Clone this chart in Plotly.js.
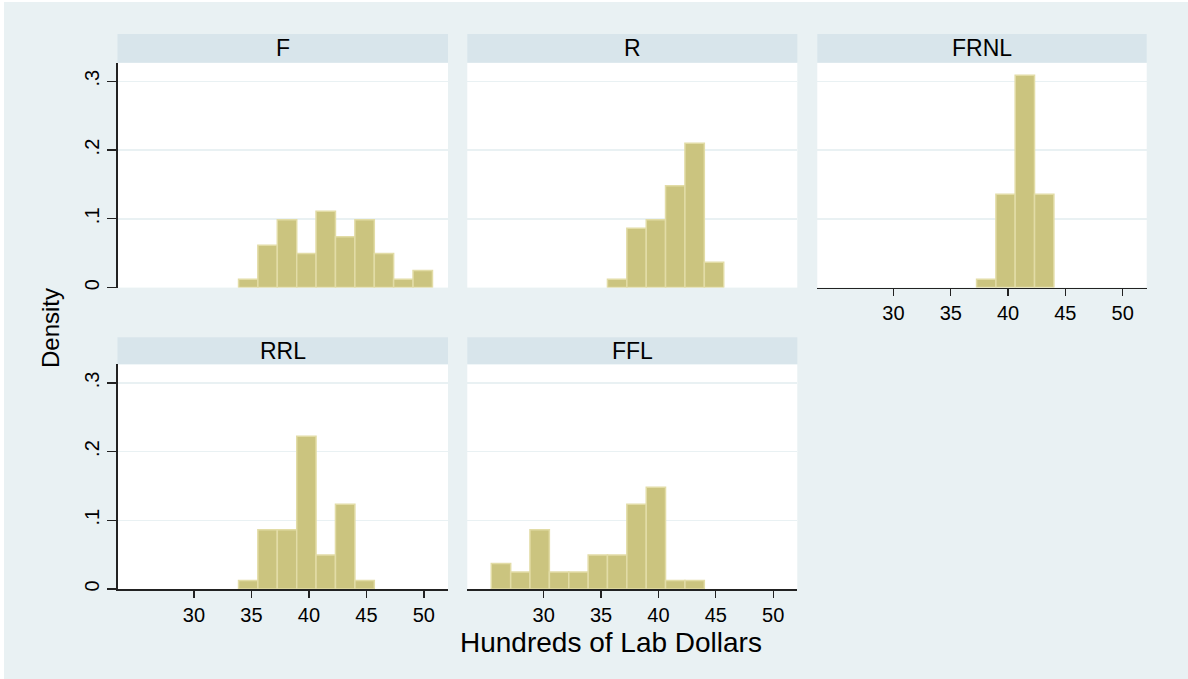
<!DOCTYPE html>
<html>
<head>
<meta charset="utf-8">
<script src="https://cdn.plot.ly/plotly-3.0.1.min.js"></script>
<style>
html,body{margin:0;padding:0;background:#ffffff;}
#chart{width:1188px;height:679px;}
</style>
</head>
<body>
<div id="chart"></div>
<script>
// Shared histogram bin edges (Hundreds of Lab Dollars)
var binEdges = [25.44, 27.13, 28.81, 30.50, 32.19, 33.88, 35.56, 37.25, 38.94, 40.62, 42.31, 44.00, 45.69, 47.37, 49.06, 50.75];

// Panel names
var panels = ["F", "R", "FRNL", "RRL", "FFL"];

// Density per bin (15 bins) for each panel
var densF    = [0, 0, 0, 0, 0, 0.0123, 0.0617, 0.0988, 0.0494, 0.1111, 0.0741, 0.0988, 0.0494, 0.0123, 0.0247];
var densR    = [0, 0, 0, 0, 0, 0, 0.0123, 0.0864, 0.0988, 0.1481, 0.2099, 0.0370, 0, 0, 0];
var densFRNL = [0, 0, 0, 0, 0, 0, 0, 0.0123, 0.1358, 0.3086, 0.1358, 0, 0, 0, 0];
var densRRL  = [0, 0, 0, 0, 0, 0.0123, 0.0864, 0.0864, 0.2222, 0.0494, 0.1235, 0.0123, 0, 0, 0];
var densFFL  = [0.0370, 0.0247, 0.0864, 0.0247, 0.0247, 0.0494, 0.0494, 0.1235, 0.1481, 0.0123, 0.0123, 0, 0, 0, 0];

// Axis tick labels
var xTickVals = [30, 35, 40, 45, 50];
var xTickText = ["30", "35", "40", "45", "50"];
var yTickVals = [0, 0.1, 0.2, 0.3];
var yTickText = ["0", ".1", ".2", ".3"];

var allDens = [densF, densR, densFRNL, densRRL, densFFL];

var W = 1188, H = 679;
function fx(px){ return px / W; }
function fy(px){ return 1 - px / H; }

// panel geometry in pixels
var cols = [[117.5, 448], [467.3, 797.3], [817.3, 1146.7]];
var rows = [{hTop: 34, pTop: 62.7, pBot: 287.6}, {hTop: 337.3, pTop: 364.3, pBot: 589}];
var place = [[0,0],[0,1],[0,2],[1,0],[1,1]]; // [row, col]

var bg = "#e9f1f3";
var strip = "#d8e5eb";
var barFill = "#cbc47f";
var barLine = "#e2dca6";

var traces = [];
var layout = {
  width: W, height: H,
  margin: {l:0, r:0, t:0, b:0},
  paper_bgcolor: bg,
  plot_bgcolor: "#ffffff",
  showlegend: false,
  bargap: 0,
  font: {family: "Liberation Sans, Arial, sans-serif", color: "#000000"},
  shapes: [],
  annotations: []
};

for (var i = 0; i < panels.length; i++) {
  var d = allDens[i];
  var xs = [], ys = [], ws = [];
  for (var b = 0; b < d.length; b++) {
    if (d[b] > 0) {
      xs.push((binEdges[b] + binEdges[b+1]) / 2);
      ws.push(binEdges[b+1] - binEdges[b]);
      ys.push(d[b]);
    }
  }
  var ax = (i === 0) ? "" : String(i + 1);
  traces.push({
    type: "bar", x: xs, y: ys, width: ws,
    xaxis: "x" + ax, yaxis: "y" + ax,
    marker: {color: barFill, line: {color: barLine, width: 1.5}},
    hoverinfo: "x+y"
  });

  var r = place[i][0], c = place[i][1];
  var col = cols[c], row = rows[r];
  var showX = (r === 1) || (i === 2);
  var showY = (c === 0);

  layout["xaxis" + ax] = {
    domain: [fx(col[0]), fx(col[1])],
    anchor: "y" + ax,
    range: [23.35, 52.1],
    tickvals: xTickVals, ticktext: xTickText,
    showticklabels: showX,
    ticks: showX ? "outside" : "",
    ticklen: 7, tickwidth: 1.3, tickcolor: "#222222",
    showline: showX, linecolor: "#222222", linewidth: 1.5,
    showgrid: false, zeroline: false,
    tickfont: {size: 20, color: "#000000"}
  };
  layout["yaxis" + ax] = {
    domain: [fy(row.pBot), fy(row.pTop)],
    anchor: "x" + ax,
    range: [0, 0.327],
    tickvals: yTickVals, ticktext: yTickText,
    showticklabels: showY,
    ticks: showY ? "outside" : "",
    ticklen: 9, tickwidth: 1.3, tickcolor: "#222222",
    tickangle: -90,
    showline: showY, linecolor: "#222222", linewidth: 1.5,
    showgrid: true, gridcolor: bg, gridwidth: 1.5,
    zeroline: false,
    tickfont: {size: 20, color: "#000000"}
  };

  // header strip
  layout.shapes.push({
    type: "rect", xref: "paper", yref: "paper",
    x0: fx(col[0]), x1: fx(col[1]), y0: fy(row.pTop), y1: fy(row.hTop),
    fillcolor: strip, line: {width: 0}, layer: "below"
  });
  layout.annotations.push({
    xref: "paper", yref: "paper",
    x: fx((col[0] + col[1]) / 2), y: fy((row.hTop + row.pTop) / 2),
    text: panels[i], showarrow: false,
    xanchor: "center", yanchor: "middle",
    font: {size: 23, color: "#000000"}
  });
}

// white outer border (left and top)
layout.shapes.push({type:"rect", xref:"paper", yref:"paper", x0:0, x1:fx(4), y0:0, y1:1, fillcolor:"#ffffff", line:{width:0}, layer:"below"});
layout.shapes.push({type:"rect", xref:"paper", yref:"paper", x0:0, x1:1, y0:fy(2), y1:1, fillcolor:"#ffffff", line:{width:0}, layer:"below"});

// axis titles
layout.annotations.push({
  xref: "paper", yref: "paper", x: fx(50), y: fy(328),
  text: "Density", textangle: -90, showarrow: false,
  xanchor: "center", yanchor: "middle",
  font: {size: 24, color: "#000000"}
});
layout.annotations.push({
  xref: "paper", yref: "paper", x: fx(611), y: fy(642),
  text: "Hundreds of Lab Dollars", showarrow: false,
  xanchor: "center", yanchor: "middle",
  font: {size: 28, color: "#000000"}
});

Plotly.newPlot("chart", traces, layout, {displayModeBar: false, staticPlot: true});
</script>
</body>
</html>
